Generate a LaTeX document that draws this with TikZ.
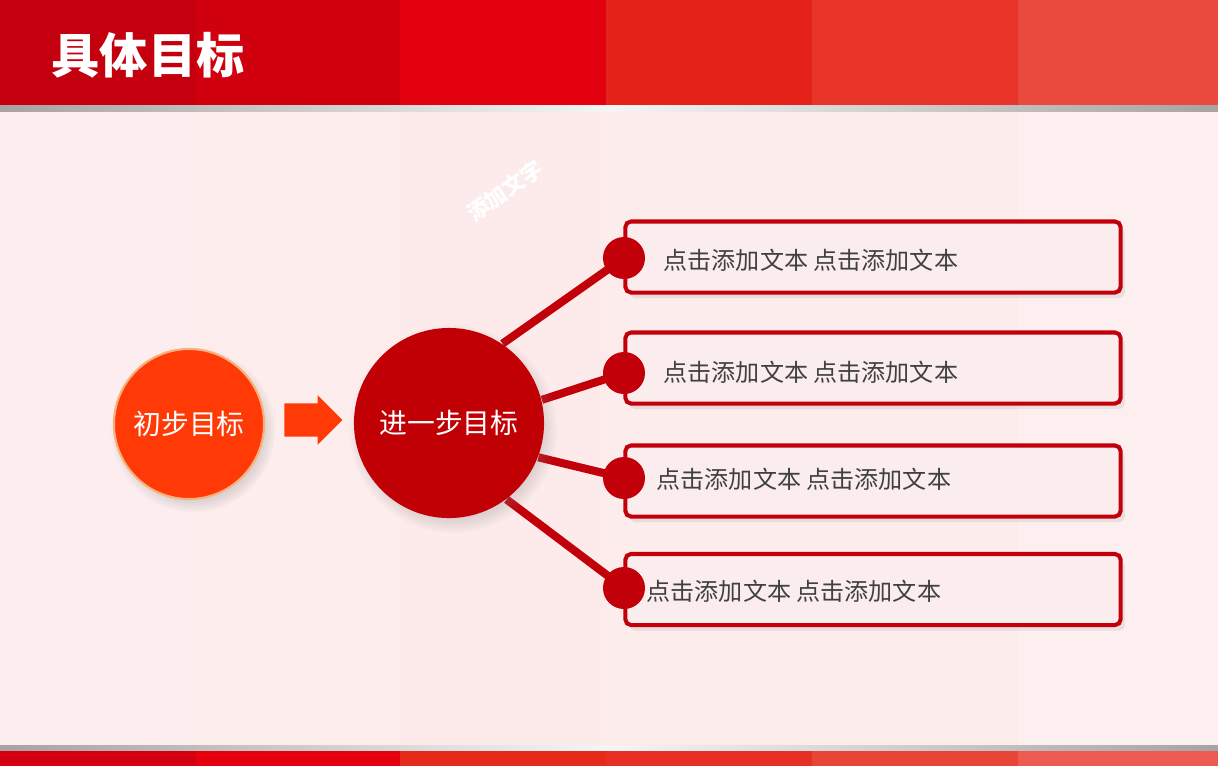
\documentclass[tikz,border=0pt]{standalone}
\usepackage{fontspec}
\setmainfont{Noto Sans CJK SC}
\usetikzlibrary{positioning,shapes.arrows,shadows}

\definecolor{hdA}{HTML}{C4000E}
\definecolor{hdB}{HTML}{D1000F}
\definecolor{hdC}{HTML}{E3000F}
\definecolor{hdD}{HTML}{E52219}
\definecolor{hdE}{HTML}{E73328}
\definecolor{hdF}{HTML}{EA4A3E}
\definecolor{ftA}{HTML}{D3000F}
\definecolor{ftB}{HTML}{E5000F}
\definecolor{ftC}{HTML}{E52A1A}
\definecolor{ftD}{HTML}{E63025}
\definecolor{ftE}{HTML}{E84537}
\definecolor{ftF}{HTML}{EC5A52}
\definecolor{bgA}{HTML}{FCEEEE}
\definecolor{bgB}{HTML}{FDEDED}
\definecolor{bgC}{HTML}{FDEBEB}
\definecolor{bgD}{HTML}{FCECEC}
\definecolor{bgE}{HTML}{FCECEC}
\definecolor{bgF}{HTML}{FDEFEF}
\definecolor{barGray}{HTML}{A9A2A2}
\definecolor{startRed}{HTML}{FF3A06}
\definecolor{startRim}{HTML}{F6B27E}
\definecolor{nextRed}{HTML}{C10006}
\definecolor{deepRed}{HTML}{C2000A}
\definecolor{boxPink}{HTML}{FBEDEE}
\definecolor{textGray}{HTML}{404040}

\pgfdeclarelayer{back}
\pgfdeclarelayer{links}
\pgfsetlayers{back,links,main}

\tikzset{
  goal/.style={circle, inner sep=0pt, text=white, font=\fontsize{7.9pt}{9pt}\selectfont},
  dot/.style={circle, inner sep=0pt, minimum size=0.42cm, fill=deepRed},
  link/.style={deepRed, line width=2.3pt},
  textbox/.style={draw=deepRed, line width=1.15pt, rounded corners=1.6pt, fill=boxPink,
    minimum width=4.95cm, minimum height=0.71cm,
    drop shadow={opacity=0.15, shadow xshift=1.2pt, shadow yshift=-1.6pt}},
  boxtext/.style={anchor=west, inner sep=0pt, text=textGray, font=\fontsize{6.85pt}{8pt}\selectfont},
  arrowshape/.style={single arrow, fill=startRed, inner xsep=0pt, inner ysep=0.16cm,
    single arrow head extend=0.08cm, minimum height=0.58cm},
}

\begin{document}
\begin{tikzpicture}[x=0.01cm, y=-0.01cm]
  \useasboundingbox (0,0) rectangle (1218,766);

  % page background, header and footer
  \begin{pgfonlayer}{back}
    \foreach \a/\b/\c in {0/196/bgA,196/400/bgB,400/606/bgC,606/812/bgD,812/1018/bgE,1018/1218/bgF}
      \fill[\c] (\a,105) rectangle (\b,750);
    \foreach \a/\b/\c in {0/196/hdA,196/400/hdB,400/606/hdC,606/812/hdD,812/1018/hdE,1018/1218/hdF}
      \fill[\c] (\a,0) rectangle (\b,105);
    \foreach \a/\b/\c in {0/196/ftA,196/400/ftB,400/606/ftC,606/812/ftD,812/1018/ftE,1018/1218/ftF}
      \fill[\c] (\a,750) rectangle (\b,766);
    \shade[left color=barGray, right color=barGray, middle color=white!92!gray] (0,105) rectangle (1218,111);
    \shade[left color=barGray, right color=barGray, middle color=white!92!gray] (0,745) rectangle (1218,750);
  \end{pgfonlayer}

  \node[anchor=west, inner sep=0pt, text=white, font=\fontsize{13.7pt}{16pt}\selectfont\bfseries] (title) at (51,55) {具体目标};
  \node[rotate=35, text=white, font=\fontsize{6.2pt}{7pt}\selectfont\bfseries] (mark) at (505,191) {添加文字};

  % two goals
  \node[goal, minimum size=1.5cm, fill=startRed, draw=startRim, line width=0.6pt,
    circular drop shadow={opacity=0.25, shadow xshift=1pt, shadow yshift=-1.5pt}] (start) at (189,424) {初步目标};
  \node[goal, minimum size=1.9cm, fill=nextRed,
    circular drop shadow={opacity=0.25, shadow xshift=1pt, shadow yshift=-1.5pt}] (next) at (449,423) {进一步目标};
  \node[arrowshape] (go) at (305,420) {};

  % text boxes
  \node[textbox] (box1) at (873,257) {};
  \node[textbox] (box2) at (873,368) {};
  \node[textbox] (box3) at (873,481) {};
  \node[textbox] (box4) at (873,589.5) {};
  \node[boxtext] (text1) at (663,260) {点击添加文本 点击添加文本};
  \node[boxtext] (text2) at (663,372) {点击添加文本 点击添加文本};
  \node[boxtext] (text3) at (656,479) {点击添加文本 点击添加文本};
  \node[boxtext] (text4) at (646,591) {点击添加文本 点击添加文本};

  \node[dot] (dot1) at (624,258) {};
  \node[dot] (dot2) at (624,373) {};
  \node[dot] (dot3) at (624,478) {};
  \node[dot] (dot4) at (624,588) {};

  \begin{pgfonlayer}{links}
    \draw[link] (next.56) -- (dot1.center);
    \draw[link] (next.14) -- (dot2.center);
    \draw[link] (next.-21) -- (dot3.center);
    \draw[link] (next.-53) -- (dot4.center);
  \end{pgfonlayer}
\end{tikzpicture}
\end{document}
